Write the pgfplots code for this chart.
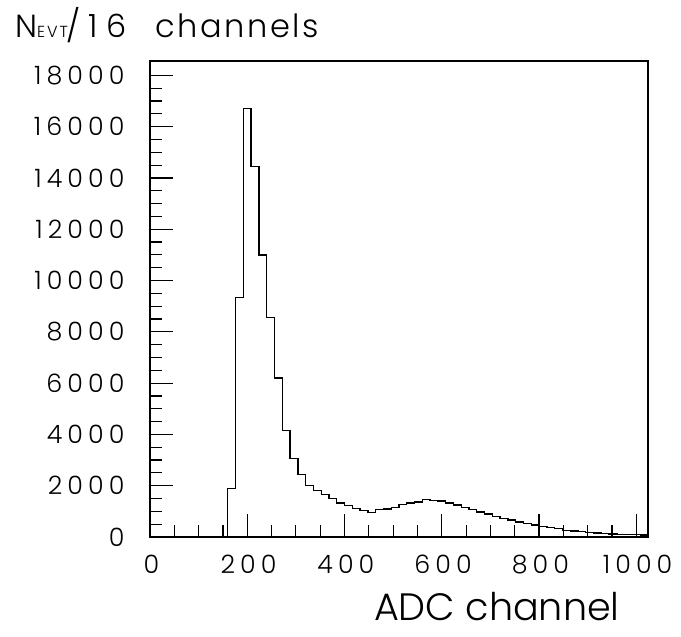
\documentclass[border=0pt]{standalone}
\usepackage{fontspec}
\setmainfont{Poppins}[UprightFont={* Light}]
\usepackage{pgfplots}
\pgfplotsset{compat=1.18}
\usepackage{pgfplotstable}
\usetikzlibrary{calc}

\pgfplotstableread{
x y
0 0
16 0
32 0
48 0
64 0
80 0
96 0
112 0
128 0
144 0
160 1900
176 9330
192 16700
208 14450
224 11000
240 8550
256 6200
272 4160
288 3070
304 2430
320 2000
336 1810
352 1650
368 1510
384 1320
400 1230
416 1100
432 1040
448 960
464 1060
480 1090
496 1140
512 1260
528 1320
544 1360
560 1470
576 1430
592 1400
608 1330
624 1250
640 1160
656 1070
672 970
688 900
704 810
720 710
736 660
752 590
768 530
784 470
800 410
816 370
832 340
848 260
864 230
880 210
896 180
912 160
928 140
944 120
960 110
976 100
992 90
1008 80
1024 80
}\histdata

\begin{document}
\begin{tikzpicture}
\begin{axis}[
  scale only axis,
  width=373.5pt, height=357pt,
  xmin=0, xmax=1024, ymin=0, ymax=18560,
  axis line style={line width=1.1pt},
  xtick={0,200,400,600,800,1000},
  ytick={0,2000,4000,6000,8000,10000,12000,14000,16000,18000},
  minor x tick num=3,
  minor y tick num=3,
  tick align=inside,
  xtick pos=bottom, ytick pos=left,
  major tick length=17pt,
  minor tick length=9pt,
  tick style={line width=0.9pt, black},
  scaled y ticks=false,
  /pgf/number format/assume math mode=true,
  /pgf/number format/1000 sep={},
  ticklabel style={font=\fontsize{19}{20}\selectfont\addfontfeature{LetterSpace=20}},
  yticklabel style={anchor=east, inner sep=0pt, xshift=-19pt},
  xticklabel style={anchor=north, inner sep=0pt, yshift=-13.5pt, xshift=1pt},
]
\addplot[const plot, line width=1pt, black] table[x=x, y=y] {\histdata};
\coordinate (bl) at (rel axis cs:0,0);
\end{axis}
\node[anchor=base west, inner sep=0pt, font=\fontsize{24}{26}\selectfont]
  at ($(bl)+(-101.25pt,374.8pt)$) {N{\fontsize{12}{12}\selectfont\addfontfeature{LetterSpace=12}EVT}\kern-1pt/\kern6pt{\addfontfeature{LetterSpace=25}16}\kern22pt{\addfontfeature{LetterSpace=8}channels}};
\node[anchor=base east, inner sep=0pt, font=\fontsize{28.6}{30}\selectfont]
  at ($(bl)+(352.5pt,-62.25pt)$) {ADC channel};
\pgfresetboundingbox
\path ($(bl)+(-112.5pt,-74.25pt)$) rectangle ($(bl)+(398.25pt,402.75pt)$);
\end{tikzpicture}
\end{document}
